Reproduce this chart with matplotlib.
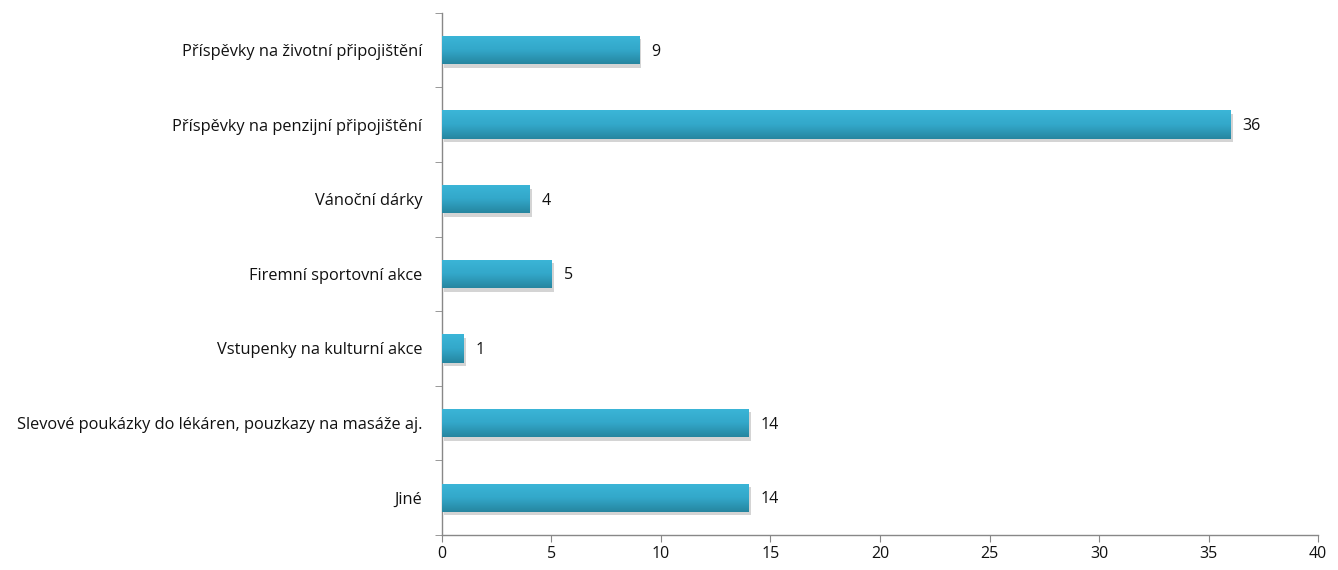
import numpy as np
import matplotlib
matplotlib.use('Agg')
import matplotlib.pyplot as plt
import matplotlib.patheffects as pe
from matplotlib.colors import LinearSegmentedColormap

plt.rcParams['font.family'] = ['Open Sans', 'DejaVu Sans']

categories = ['Příspěvky na životní připojištění',
              'Příspěvky na penzijní připojištění',
              'Vánoční dárky',
              'Firemní sportovní akce',
              'Vstupenky na kulturní akce',
              'Slevové poukázky do lékáren, pouzkazy na masáže aj.',
              'Jiné']
values = [9, 36, 4, 5, 1, 14, 14]
xticks = [0, 5, 10, 15, 20, 25, 30, 35, 40]

fig = plt.figure(figsize=(13.38, 5.7), dpi=100)
ax = fig.add_axes([0.3303, 0.0614, 0.6548, 0.9163])

pos = np.arange(len(categories))[::-1]
bars = ax.barh(pos, values, height=0.38, color='#31a6c6', edgecolor='none', zorder=2,
               path_effects=[pe.SimplePatchShadow(offset=(1.5, -2.5), shadow_rgbFace='#aaaaaa', alpha=0.5),
                             pe.Normal()])

cmap = LinearSegmentedColormap.from_list('g', ['#3bb6d8', '#33a8ca', '#2686a0'])
grad = np.linspace(0, 1, 64).reshape(-1, 1)
for b in bars:
    x0, y0 = b.get_x(), b.get_y()
    w, h = b.get_width(), b.get_height()
    im = ax.imshow(grad, cmap=cmap, aspect='auto', extent=(x0, x0 + w, y0, y0 + h),
                   origin='upper', zorder=3)
    im.set_clip_path(b)

for p, v in zip(pos, values):
    ax.text(v + 0.55, p - 0.02, str(v), va='center', ha='left', fontsize=11.5, color='#111111')

ax.set_xlim(0, 40)
ax.set_ylim(-0.5, len(categories) - 0.5)
ax.set_xticks(xticks)
ax.set_yticks(pos)
ax.set_yticklabels(categories)
ax.set_yticks(np.arange(len(categories) + 1) - 0.5, minor=True)
ax.tick_params(axis='y', which='major', length=0, pad=14, labelsize=11.8, labelcolor='#111111')
ax.tick_params(axis='y', which='minor', length=5, color='#888888', direction='out')
ax.tick_params(axis='x', length=5, color='#888888', direction='out', labelsize=11.5,
               labelcolor='#111111', pad=3)

for s in ['top', 'right']:
    ax.spines[s].set_visible(False)
for s in ['left', 'bottom']:
    ax.spines[s].set_color('#888888')
    ax.spines[s].set_linewidth(1)

fig.savefig('out.png', dpi=100)
